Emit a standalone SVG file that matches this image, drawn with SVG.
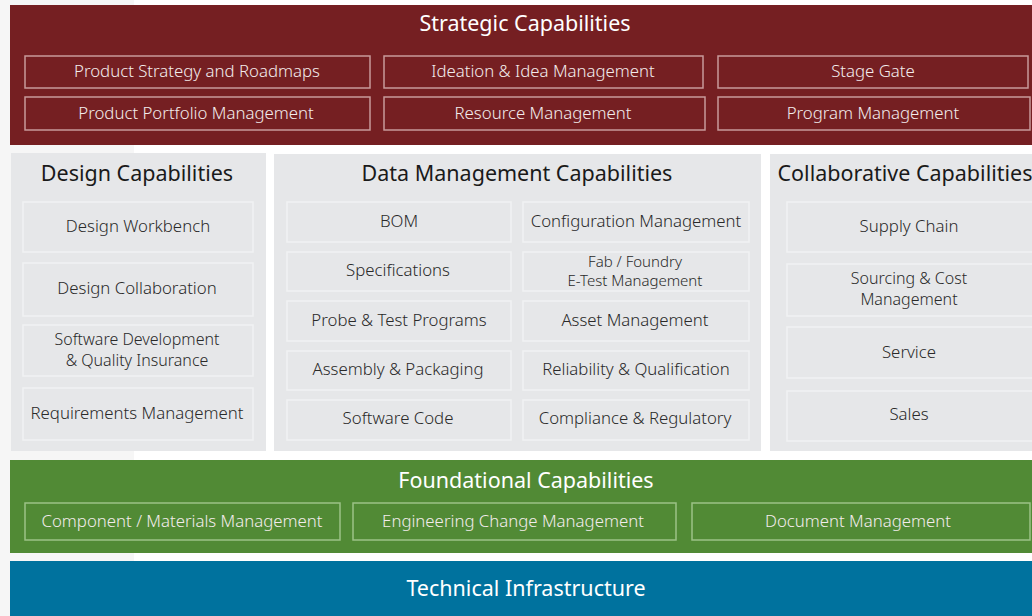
<svg xmlns="http://www.w3.org/2000/svg" width="1032" height="616" viewBox="0 0 1032 616">
<style>
.t{font-family:"Noto Sans","Open Sans","Liberation Sans",sans-serif;text-anchor:middle}
.h{font-size:21.5px;font-weight:400}
.s{font-size:16.8px;font-weight:300}
.sm{font-size:16px}
.xs{font-size:15px}
.w{fill:#ffffff}
.wl{fill:#f3ecec}
.d{fill:#1a1a1a}
.dl{fill:#2a2a2a}
.rb{fill:none;stroke:#c79a9b;stroke-width:1.5}
.gb{fill:none;stroke:#9cc287;stroke-width:1.5}
.pb{fill:#e6e7e9;stroke:#f1f2f3;stroke-width:1.5}
</style>
<rect x="0" y="0" width="1032" height="616" fill="#ffffff"/>
<rect x="0" y="0" width="134" height="616" fill="#f6f6f6"/>
<g id="strategic">
<rect x="10" y="5" width="1022" height="140" fill="#751f22"/>
<text class="t h w" x="525" y="31">Strategic Capabilities</text>
</g>
<g id="s1"><rect class="rb" x="25" y="56" width="345" height="32"/><text class="t s wl" x="197" y="77">Product Strategy and Roadmaps</text></g>
<g id="s2"><rect class="rb" x="384" y="56" width="319" height="32"/><text class="t s wl" x="543" y="77">Ideation &amp; Idea Management</text></g>
<g id="s3"><rect class="rb" x="718" y="56" width="310" height="32"/><text class="t s wl" x="873" y="77">Stage Gate</text></g>
<g id="s4"><rect class="rb" x="25" y="97" width="345" height="33"/><text class="t s wl" x="196" y="119">Product Portfolio Management</text></g>
<g id="s5"><rect class="rb" x="384" y="97" width="321" height="33"/><text class="t s wl" x="543" y="119">Resource Management</text></g>
<g id="s6"><rect class="rb" x="718" y="97" width="312" height="33"/><text class="t s wl" x="873" y="119">Program Management</text></g>

<g id="design">
<rect x="11" y="153" width="255" height="298" fill="#e6e7e9"/>
<text class="t h d" x="137" y="181">Design Capabilities</text>
</g>
<g id="d1"><rect class="pb" x="23" y="202" width="230" height="50"/><text class="t s dl" x="138" y="232">Design Workbench</text></g>
<g id="d2"><rect class="pb" x="23" y="263" width="230" height="53"/><text class="t s dl" x="137" y="294">Design Collaboration</text></g>
<g id="d3"><rect class="pb" x="23" y="325" width="230" height="51"/><text class="t s sm dl" x="137" y="345">Software Development</text><text class="t s sm dl" x="137" y="366">&amp; Quality Insurance</text></g>
<g id="d4"><rect class="pb" x="23" y="388" width="230" height="52"/><text class="t s dl" x="137" y="419">Requirements Management</text></g>

<g id="data">
<rect x="274" y="154" width="487" height="297" fill="#e6e7e9"/>
<text class="t h d" x="517" y="181">Data Management Capabilities</text>
</g>
<g id="m1"><rect class="pb" x="287" y="202" width="224" height="40"/><text class="t s dl" x="399" y="227">BOM</text></g>
<g id="m2"><rect class="pb" x="287" y="252" width="224" height="39"/><text class="t s dl" x="398" y="276">Specifications</text></g>
<g id="m3"><rect class="pb" x="287" y="301" width="224" height="40"/><text class="t s dl" x="399" y="326">Probe &amp; Test Programs</text></g>
<g id="m4"><rect class="pb" x="287" y="351" width="224" height="39"/><text class="t s dl" x="398" y="375">Assembly &amp; Packaging</text></g>
<g id="m5"><rect class="pb" x="287" y="400" width="224" height="40"/><text class="t s dl" x="398" y="424">Software Code</text></g>
<g id="m6"><rect class="pb" x="523" y="202" width="226" height="40"/><text class="t s dl" x="636" y="227">Configuration Management</text></g>
<g id="m7"><rect class="pb" x="523" y="252" width="226" height="39"/><text class="t s xs dl" x="635" y="267">Fab / Foundry</text><text class="t s xs dl" x="635" y="286">E-Test Management</text></g>
<g id="m8"><rect class="pb" x="523" y="301" width="226" height="40"/><text class="t s dl" x="635" y="326">Asset Management</text></g>
<g id="m9"><rect class="pb" x="523" y="351" width="226" height="39"/><text class="t s dl" x="636" y="375">Reliability &amp; Qualification</text></g>
<g id="m10"><rect class="pb" x="523" y="400" width="226" height="40"/><text class="t s dl" x="635" y="424">Compliance &amp; Regulatory</text></g>

<g id="collab">
<rect x="770" y="154" width="262" height="297" fill="#e6e7e9"/>
<text class="t h d" x="905" y="181">Collaborative Capabilities</text>
</g>
<g id="c1"><rect class="pb" x="787" y="202" width="250" height="50"/><text class="t s dl" x="909" y="232">Supply Chain</text></g>
<g id="c2"><rect class="pb" x="787" y="264" width="250" height="52"/><text class="t s sm dl" x="909" y="284">Sourcing &amp; Cost</text><text class="t s sm dl" x="909" y="305">Management</text></g>
<g id="c3"><rect class="pb" x="787" y="327" width="250" height="51"/><text class="t s dl" x="909" y="358">Service</text></g>
<g id="c4"><rect class="pb" x="787" y="391" width="250" height="50"/><text class="t s dl" x="909" y="420">Sales</text></g>

<g id="foundational">
<rect x="10" y="460" width="1022" height="93" fill="#518a35"/>
<text class="t h w" x="526" y="488">Foundational Capabilities</text>
</g>
<g id="f1"><rect class="gb" x="25" y="503" width="315" height="37"/><text class="t s wl" x="182" y="527">Component / Materials Management</text></g>
<g id="f2"><rect class="gb" x="353" y="503" width="323" height="37"/><text class="t s wl" x="513" y="527">Engineering Change Management</text></g>
<g id="f3"><rect class="gb" x="692" y="503" width="338" height="37"/><text class="t s wl" x="858" y="527">Document Management</text></g>

<g id="technical">
<rect x="10" y="561" width="1022" height="55" fill="#00729e"/>
<text class="t h w" x="526" y="596">Technical Infrastructure</text>
</g>
<g id="connectors"></g>
</svg>
